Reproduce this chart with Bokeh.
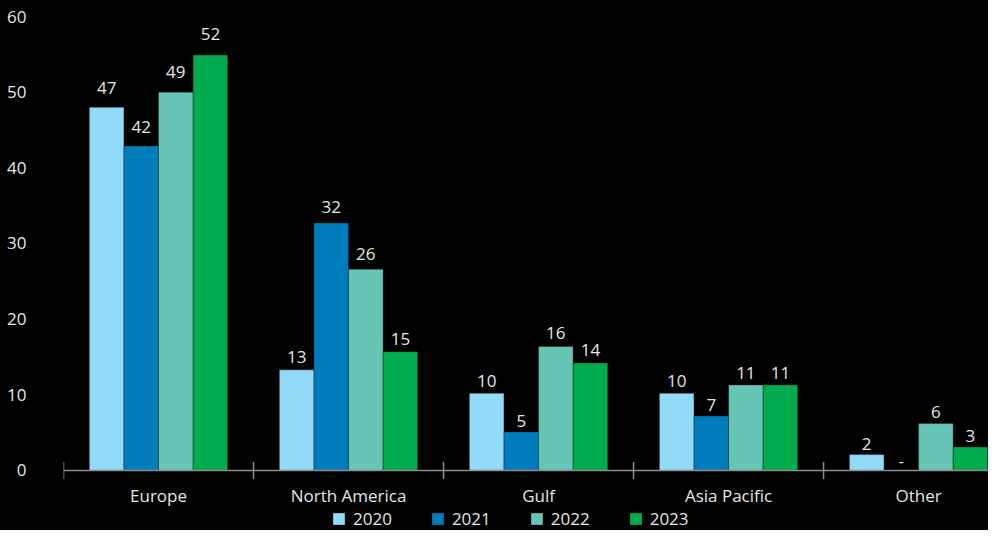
import math
from bokeh.plotting import figure
from bokeh.models import ColumnDataSource, FixedTicker, Legend, LegendItem, Range1d, Span
from bokeh.core.properties import value
from bokeh.embed import file_html
from bokeh.resources import INLINE

regions = ["Europe", "North America", "Gulf", "Asia Pacific", "Other"]
years = ["2020", "2021", "2022", "2023"]
bar_2020 = [48.0, 13.3, 10.2, 10.2, 2.1]
bar_2021 = [42.9, 32.7, 5.1, 7.2, 0.0]
bar_2022 = [50.0, 26.6, 16.4, 11.3, 6.2]
bar_2023 = [54.9, 15.7, 14.2, 11.3, 3.1]
lab_2020 = ["47", "13", "10", "10", "2"]
lab_2021 = ["42", "32", "5", "7", "-"]
lab_2022 = ["49", "26", "16", "11", "6"]
lab_2023 = ["52", "15", "14", "11", "3"]
y_ticks = [0, 10, 20, 30, 40, 50, 60]
colors = ["#93d9f8", "#007cba", "#66c5b5", "#00ab4e"]

bars = [bar_2020, bar_2021, bar_2022, bar_2023]
labels = [lab_2020, lab_2021, lab_2022, lab_2023]

FONT = "Open Sans"
TXT = "#e6e6e6"
AXIS = "#8c8c8c"
BAR_W = 0.182

p = figure(width=988, height=530, x_range=Range1d(0, 4.868), y_range=Range1d(-7.93, 60),
           output_backend="svg", toolbar_location=None,
           background_fill_color="black", border_fill_color="black",
           outline_line_color=None, min_border_left=63, min_border_right=0,
           min_border_top=16, min_border_bottom=0)
p.styles = {"background-color": "black"}
p.xgrid.visible = False
p.ygrid.visible = False
p.xaxis.visible = False

centers = [i + 0.5 for i in range(len(regions))]
bounds = list(range(len(regions)))

# baseline and category boundary ticks
p.add_layout(Span(location=0, dimension="width", line_color=AXIS, line_width=1.5))
p.scatter(x=bounds, y=[0] * len(bounds), marker="dash", size=17, angle=math.pi / 2,
          line_color=AXIS, line_width=1.5)
# category labels
p.text(x=centers, y=[0] * len(centers), text=regions, text_align="center",
       text_baseline="middle", y_offset=25, text_color=TXT,
       text_font=value(FONT), text_font_size="17px")

renderers = []
for j, (yr, vals, labs, col) in enumerate(zip(years, bars, labels, colors)):
    xs = [c + (j - 1.5) * BAR_W for c in centers]
    src = ColumnDataSource(dict(x=xs, top=vals, lab=labs,
                                ly=[v * 1.026 + 0.26 for v in vals]))
    r = p.vbar(x="x", top="top", bottom=0, width=BAR_W, source=src,
               fill_color=col, line_color="black", line_alpha=0.3, line_width=1)
    renderers.append(r)
    p.text(x="x", y="ly", text="lab", source=src, text_align="center",
           text_baseline="alphabetic", y_offset=-8, text_color=TXT,
           text_font=value(FONT), text_font_size="17px")

yax = p.yaxis[0]
yax.ticker = FixedTicker(ticks=y_ticks)
yax.axis_line_color = None
yax.major_tick_line_color = None
yax.minor_tick_line_color = None
yax.major_label_standoff = 31
yax.major_label_text_font = FONT
yax.major_label_text_font_size = "17px"
yax.major_label_text_color = TXT

legend = Legend(items=[LegendItem(label=y, renderers=[r]) for y, r in zip(years, renderers)],
                orientation="horizontal", location=(268, 0),
                background_fill_alpha=0, border_line_color=None,
                label_text_color=TXT, label_text_font=FONT, label_text_font_size="17px",
                glyph_width=15, glyph_height=15, label_standoff=7, spacing=38,
                padding=0, margin=0, label_height=18)
p.add_layout(legend, "center")

open("out.html", "w").write(file_html(p, INLINE))
